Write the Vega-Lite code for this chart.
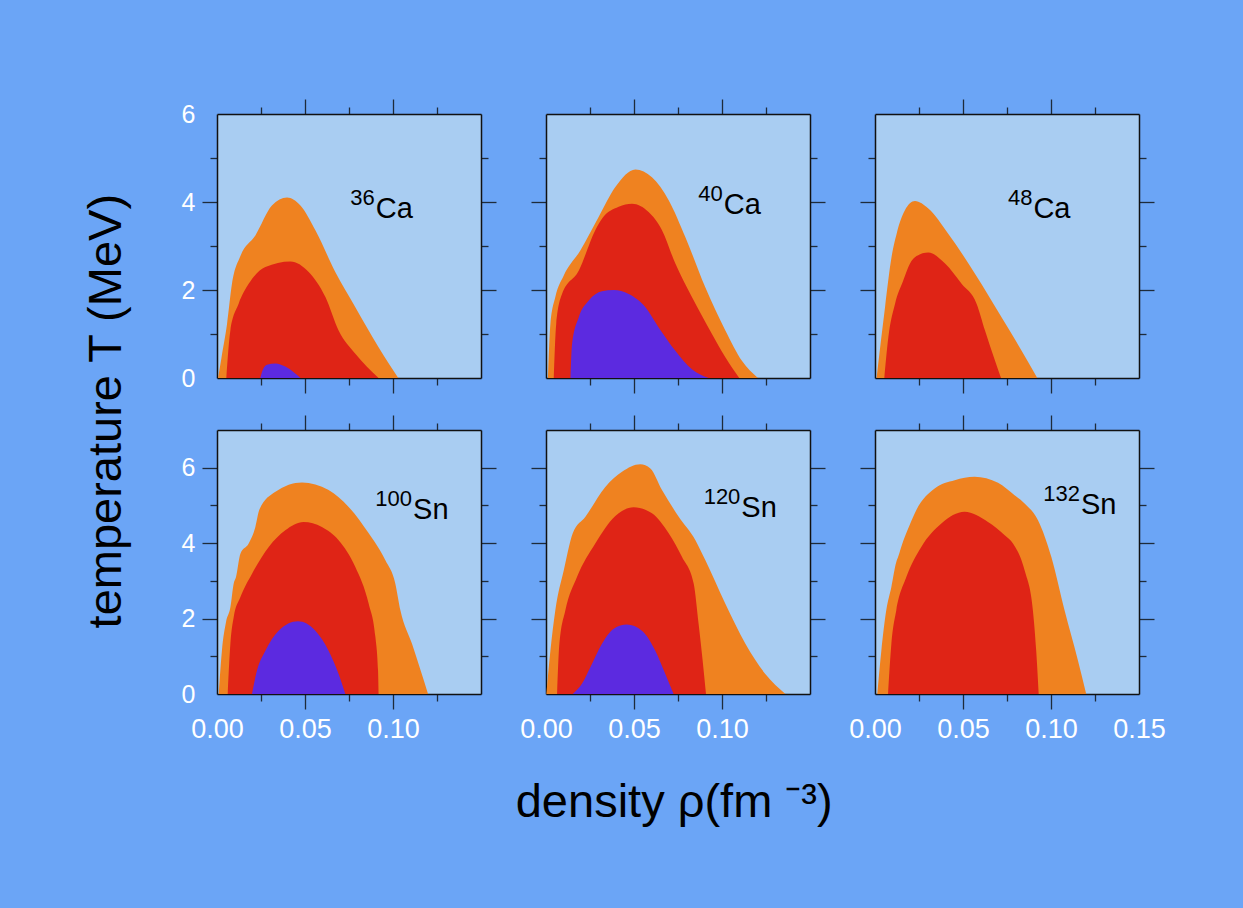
{
  "$schema": "https://vega.github.io/schema/vega-lite/v6.json",
  "background": "#6ba5f6",
  "padding": {"left": 83, "top": 98, "right": 78, "bottom": 84},
  "title": {"text": "temperature T (MeV)", "orient": "left", "anchor": "middle", "frame": "bounds", "fontSize": 47, "fontWeight": "normal", "font": "Liberation Sans", "color": "black", "offset": 50, "dx": 51},
  "datasets": {
    "regions": [
      {"panel":"36Ca","zone":"outer","rho":0.0006,"T":0},{"panel":"36Ca","zone":"outer","rho":0.0025,"T":0.45},{"panel":"36Ca","zone":"outer","rho":0.0057,"T":1.23},{"panel":"36Ca","zone":"outer","rho":0.0085,"T":2.14},{"panel":"36Ca","zone":"outer","rho":0.0133,"T":2.77},{"panel":"36Ca","zone":"outer","rho":0.0218,"T":3.24},{"panel":"36Ca","zone":"outer","rho":0.0312,"T":3.92},{"panel":"36Ca","zone":"outer","rho":0.0398,"T":4.10},{"panel":"36Ca","zone":"outer","rho":0.0474,"T":3.92},{"panel":"36Ca","zone":"outer","rho":0.0559,"T":3.36},{"panel":"36Ca","zone":"outer","rho":0.0672,"T":2.41},{"panel":"36Ca","zone":"outer","rho":0.0786,"T":1.61},{"panel":"36Ca","zone":"outer","rho":0.0918,"T":0.70},{"panel":"36Ca","zone":"outer","rho":0.1030,"T":0},
      {"panel":"36Ca","zone":"middle","rho":0.0053,"T":0},{"panel":"36Ca","zone":"middle","rho":0.0076,"T":1.08},{"panel":"36Ca","zone":"middle","rho":0.0123,"T":1.69},{"panel":"36Ca","zone":"middle","rho":0.018,"T":2.14},{"panel":"36Ca","zone":"middle","rho":0.0275,"T":2.52},{"panel":"36Ca","zone":"middle","rho":0.0417,"T":2.65},{"panel":"36Ca","zone":"middle","rho":0.0521,"T":2.41},{"panel":"36Ca","zone":"middle","rho":0.0616,"T":1.84},{"panel":"36Ca","zone":"middle","rho":0.0691,"T":1.08},{"panel":"36Ca","zone":"middle","rho":0.0786,"T":0.55},{"panel":"36Ca","zone":"middle","rho":0.0918,"T":0},
      {"panel":"36Ca","zone":"inner","rho":0.0246,"T":0},{"panel":"36Ca","zone":"inner","rho":0.0255,"T":0.13},{"panel":"36Ca","zone":"inner","rho":0.0284,"T":0.30},{"panel":"36Ca","zone":"inner","rho":0.0332,"T":0.33},{"panel":"36Ca","zone":"inner","rho":0.0388,"T":0.26},{"panel":"36Ca","zone":"inner","rho":0.0436,"T":0.13},{"panel":"36Ca","zone":"inner","rho":0.0474,"T":0},
      {"panel":"40Ca","zone":"outer","rho":0.0011,"T":0},{"panel":"40Ca","zone":"outer","rho":0.0025,"T":1.23},{"panel":"40Ca","zone":"outer","rho":0.0053,"T":1.84},{"panel":"40Ca","zone":"outer","rho":0.0101,"T":2.33},{"panel":"40Ca","zone":"outer","rho":0.0195,"T":2.90},{"panel":"40Ca","zone":"outer","rho":0.0299,"T":3.66},{"panel":"40Ca","zone":"outer","rho":0.0394,"T":4.34},{"panel":"40Ca","zone":"outer","rho":0.0508,"T":4.74},{"panel":"40Ca","zone":"outer","rho":0.0602,"T":4.56},{"panel":"40Ca","zone":"outer","rho":0.0697,"T":4.04},{"panel":"40Ca","zone":"outer","rho":0.0792,"T":3.20},{"panel":"40Ca","zone":"outer","rho":0.0905,"T":2.06},{"panel":"40Ca","zone":"outer","rho":0.1019,"T":1.08},{"panel":"40Ca","zone":"outer","rho":0.1113,"T":0.39},{"panel":"40Ca","zone":"outer","rho":0.1204,"T":0},
      {"panel":"40Ca","zone":"middle","rho":0.0044,"T":0},{"panel":"40Ca","zone":"middle","rho":0.0058,"T":1.23},{"panel":"40Ca","zone":"middle","rho":0.0091,"T":1.91},{"panel":"40Ca","zone":"middle","rho":0.0186,"T":2.44},{"panel":"40Ca","zone":"middle","rho":0.0280,"T":3.36},{"panel":"40Ca","zone":"middle","rho":0.0318,"T":3.62},{"panel":"40Ca","zone":"middle","rho":0.0413,"T":3.89},{"panel":"40Ca","zone":"middle","rho":0.0489,"T":3.96},{"panel":"40Ca","zone":"middle","rho":0.0583,"T":3.77},{"panel":"40Ca","zone":"middle","rho":0.0659,"T":3.36},{"panel":"40Ca","zone":"middle","rho":0.0735,"T":2.60},{"panel":"40Ca","zone":"middle","rho":0.0829,"T":1.84},{"panel":"40Ca","zone":"middle","rho":0.0943,"T":1.00},{"panel":"40Ca","zone":"middle","rho":0.1019,"T":0.47},{"panel":"40Ca","zone":"middle","rho":0.1098,"T":0},
      {"panel":"40Ca","zone":"inner","rho":0.0139,"T":0},{"panel":"40Ca","zone":"inner","rho":0.0148,"T":0.77},{"panel":"40Ca","zone":"inner","rho":0.0186,"T":1.38},{"panel":"40Ca","zone":"inner","rho":0.0243,"T":1.76},{"panel":"40Ca","zone":"inner","rho":0.0318,"T":1.97},{"panel":"40Ca","zone":"inner","rho":0.0385,"T":2.00},{"panel":"40Ca","zone":"inner","rho":0.0470,"T":1.91},{"panel":"40Ca","zone":"inner","rho":0.0565,"T":1.61},{"panel":"40Ca","zone":"inner","rho":0.0640,"T":1.15},{"panel":"40Ca","zone":"inner","rho":0.0735,"T":0.62},{"panel":"40Ca","zone":"inner","rho":0.0829,"T":0.20},{"panel":"40Ca","zone":"inner","rho":0.0924,"T":0},
      {"panel":"48Ca","zone":"outer","rho":0.0009,"T":0},{"panel":"48Ca","zone":"outer","rho":0.0057,"T":1.61},{"panel":"48Ca","zone":"outer","rho":0.0094,"T":2.75},{"panel":"48Ca","zone":"outer","rho":0.0123,"T":3.28},{"panel":"48Ca","zone":"outer","rho":0.0170,"T":3.81},{"panel":"48Ca","zone":"outer","rho":0.0227,"T":4.02},{"panel":"48Ca","zone":"outer","rho":0.0303,"T":3.85},{"panel":"48Ca","zone":"outer","rho":0.0416,"T":3.28},{"panel":"48Ca","zone":"outer","rho":0.0568,"T":2.37},{"panel":"48Ca","zone":"outer","rho":0.0719,"T":1.38},{"panel":"48Ca","zone":"outer","rho":0.0833,"T":0.62},{"panel":"48Ca","zone":"outer","rho":0.0922,"T":0},
      {"panel":"48Ca","zone":"middle","rho":0.0053,"T":0},{"panel":"48Ca","zone":"middle","rho":0.0076,"T":0.93},{"panel":"48Ca","zone":"middle","rho":0.0114,"T":1.69},{"panel":"48Ca","zone":"middle","rho":0.0161,"T":2.22},{"panel":"48Ca","zone":"middle","rho":0.0199,"T":2.60},{"panel":"48Ca","zone":"middle","rho":0.0236,"T":2.77},{"panel":"48Ca","zone":"middle","rho":0.0303,"T":2.85},{"panel":"48Ca","zone":"middle","rho":0.0398,"T":2.60},{"panel":"48Ca","zone":"middle","rho":0.0492,"T":2.14},{"panel":"48Ca","zone":"middle","rho":0.0577,"T":1.69},{"panel":"48Ca","zone":"middle","rho":0.0625,"T":1.08},{"panel":"48Ca","zone":"middle","rho":0.0682,"T":0.39},{"panel":"48Ca","zone":"middle","rho":0.0716,"T":0},
      {"panel":"100Sn","zone":"outer","rho":0.0010,"T":0},{"panel":"100Sn","zone":"outer","rho":0.0028,"T":1.15},{"panel":"100Sn","zone":"outer","rho":0.0051,"T":1.90},{"panel":"100Sn","zone":"outer","rho":0.0076,"T":2.30},{"panel":"100Sn","zone":"outer","rho":0.0095,"T":2.93},{"panel":"100Sn","zone":"outer","rho":0.0108,"T":3.10},{"panel":"100Sn","zone":"outer","rho":0.0133,"T":3.72},{"panel":"100Sn","zone":"outer","rho":0.0180,"T":3.99},{"panel":"100Sn","zone":"outer","rho":0.0218,"T":4.43},{"panel":"100Sn","zone":"outer","rho":0.0241,"T":4.89},{"panel":"100Sn","zone":"outer","rho":0.0332,"T":5.36},{"panel":"100Sn","zone":"outer","rho":0.0483,"T":5.61},{"panel":"100Sn","zone":"outer","rho":0.0634,"T":5.41},{"panel":"100Sn","zone":"outer","rho":0.0748,"T":4.96},{"panel":"100Sn","zone":"outer","rho":0.0862,"T":4.26},{"panel":"100Sn","zone":"outer","rho":0.0956,"T":3.55},{"panel":"100Sn","zone":"outer","rho":0.1013,"T":2.93},{"panel":"100Sn","zone":"outer","rho":0.1042,"T":2.22},{"panel":"100Sn","zone":"outer","rho":0.1108,"T":1.33},{"panel":"100Sn","zone":"outer","rho":0.1199,"T":0},
      {"panel":"100Sn","zone":"middle","rho":0.0061,"T":0},{"panel":"100Sn","zone":"middle","rho":0.0076,"T":1.33},{"panel":"100Sn","zone":"middle","rho":0.0095,"T":2.04},{"panel":"100Sn","zone":"middle","rho":0.0133,"T":2.57},{"panel":"100Sn","zone":"middle","rho":0.0199,"T":3.19},{"panel":"100Sn","zone":"middle","rho":0.0294,"T":3.90},{"panel":"100Sn","zone":"middle","rho":0.0388,"T":4.34},{"panel":"100Sn","zone":"middle","rho":0.0492,"T":4.56},{"panel":"100Sn","zone":"middle","rho":0.0596,"T":4.43},{"panel":"100Sn","zone":"middle","rho":0.0691,"T":4.08},{"panel":"100Sn","zone":"middle","rho":0.0786,"T":3.37},{"panel":"100Sn","zone":"middle","rho":0.0862,"T":2.39},{"panel":"100Sn","zone":"middle","rho":0.0900,"T":1.51},{"panel":"100Sn","zone":"middle","rho":0.0915,"T":0.62},{"panel":"100Sn","zone":"middle","rho":0.0918,"T":0},
      {"panel":"100Sn","zone":"inner","rho":0.0199,"T":0},{"panel":"100Sn","zone":"inner","rho":0.0227,"T":0.62},{"panel":"100Sn","zone":"inner","rho":0.0275,"T":1.15},{"panel":"100Sn","zone":"inner","rho":0.0350,"T":1.68},{"panel":"100Sn","zone":"inner","rho":0.0460,"T":1.93},{"panel":"100Sn","zone":"inner","rho":0.0559,"T":1.68},{"panel":"100Sn","zone":"inner","rho":0.0634,"T":1.15},{"panel":"100Sn","zone":"inner","rho":0.0691,"T":0.53},{"panel":"100Sn","zone":"inner","rho":0.0729,"T":0},
      {"panel":"120Sn","zone":"outer","rho":0.0002,"T":0},{"panel":"120Sn","zone":"outer","rho":0.0025,"T":1.15},{"panel":"120Sn","zone":"outer","rho":0.0053,"T":2.22},{"panel":"120Sn","zone":"outer","rho":0.0101,"T":3.28},{"panel":"120Sn","zone":"outer","rho":0.0152,"T":4.26},{"panel":"120Sn","zone":"outer","rho":0.0224,"T":4.70},{"panel":"120Sn","zone":"outer","rho":0.0337,"T":5.49},{"panel":"120Sn","zone":"outer","rho":0.0432,"T":5.89},{"panel":"120Sn","zone":"outer","rho":0.0536,"T":6.09},{"panel":"120Sn","zone":"outer","rho":0.0593,"T":5.98},{"panel":"120Sn","zone":"outer","rho":0.0659,"T":5.41},{"panel":"120Sn","zone":"outer","rho":0.0754,"T":4.70},{"panel":"120Sn","zone":"outer","rho":0.0849,"T":4.08},{"panel":"120Sn","zone":"outer","rho":0.0905,"T":3.55},{"panel":"120Sn","zone":"outer","rho":0.1019,"T":2.39},{"panel":"120Sn","zone":"outer","rho":0.1133,"T":1.33},{"panel":"120Sn","zone":"outer","rho":0.1246,"T":0.53},{"panel":"120Sn","zone":"outer","rho":0.1360,"T":0},
      {"panel":"120Sn","zone":"middle","rho":0.0063,"T":0},{"panel":"120Sn","zone":"middle","rho":0.0076,"T":1.33},{"panel":"120Sn","zone":"middle","rho":0.0110,"T":2.22},{"panel":"120Sn","zone":"middle","rho":0.0176,"T":3.10},{"panel":"120Sn","zone":"middle","rho":0.0280,"T":3.99},{"panel":"120Sn","zone":"middle","rho":0.0394,"T":4.72},{"panel":"120Sn","zone":"middle","rho":0.0498,"T":4.95},{"panel":"120Sn","zone":"middle","rho":0.0602,"T":4.79},{"panel":"120Sn","zone":"middle","rho":0.0697,"T":4.26},{"panel":"120Sn","zone":"middle","rho":0.0773,"T":3.63},{"panel":"120Sn","zone":"middle","rho":0.0839,"T":2.93},{"panel":"120Sn","zone":"middle","rho":0.0867,"T":1.86},{"panel":"120Sn","zone":"middle","rho":0.0890,"T":0.89},{"panel":"120Sn","zone":"middle","rho":0.0909,"T":0},
      {"panel":"120Sn","zone":"inner","rho":0.0152,"T":0},{"panel":"120Sn","zone":"inner","rho":0.0204,"T":0.27},{"panel":"120Sn","zone":"inner","rho":0.0252,"T":0.71},{"panel":"120Sn","zone":"inner","rho":0.0318,"T":1.33},{"panel":"120Sn","zone":"inner","rho":0.0385,"T":1.73},{"panel":"120Sn","zone":"inner","rho":0.0460,"T":1.84},{"panel":"120Sn","zone":"inner","rho":0.0545,"T":1.68},{"panel":"120Sn","zone":"inner","rho":0.0621,"T":1.15},{"panel":"120Sn","zone":"inner","rho":0.0678,"T":0.53},{"panel":"120Sn","zone":"inner","rho":0.0725,"T":0},
      {"panel":"132Sn","zone":"outer","rho":0.0013,"T":0},{"panel":"132Sn","zone":"outer","rho":0.0036,"T":1.15},{"panel":"132Sn","zone":"outer","rho":0.0064,"T":2.22},{"panel":"132Sn","zone":"outer","rho":0.0093,"T":2.84},{"panel":"132Sn","zone":"outer","rho":0.0121,"T":3.50},{"panel":"132Sn","zone":"outer","rho":0.0131,"T":3.63},{"panel":"132Sn","zone":"outer","rho":0.0149,"T":3.90},{"panel":"132Sn","zone":"outer","rho":0.0197,"T":4.48},{"panel":"132Sn","zone":"outer","rho":0.0235,"T":4.88},{"panel":"132Sn","zone":"outer","rho":0.0339,"T":5.45},{"panel":"132Sn","zone":"outer","rho":0.0453,"T":5.67},{"panel":"132Sn","zone":"outer","rho":0.0566,"T":5.76},{"panel":"132Sn","zone":"outer","rho":0.0699,"T":5.60},{"panel":"132Sn","zone":"outer","rho":0.0793,"T":5.27},{"panel":"132Sn","zone":"outer","rho":0.0850,"T":5.05},{"panel":"132Sn","zone":"outer","rho":0.0926,"T":4.61},{"panel":"132Sn","zone":"outer","rho":0.1002,"T":3.63},{"panel":"132Sn","zone":"outer","rho":0.1077,"T":2.22},{"panel":"132Sn","zone":"outer","rho":0.1153,"T":0.89},{"panel":"132Sn","zone":"outer","rho":0.1200,"T":0},
      {"panel":"132Sn","zone":"middle","rho":0.0074,"T":0},{"panel":"132Sn","zone":"middle","rho":0.0093,"T":1.33},{"panel":"132Sn","zone":"middle","rho":0.0121,"T":2.22},{"panel":"132Sn","zone":"middle","rho":0.0178,"T":3.10},{"panel":"132Sn","zone":"middle","rho":0.0263,"T":3.90},{"panel":"132Sn","zone":"middle","rho":0.0377,"T":4.52},{"panel":"132Sn","zone":"middle","rho":0.0509,"T":4.83},{"panel":"132Sn","zone":"middle","rho":0.0642,"T":4.56},{"panel":"132Sn","zone":"middle","rho":0.0737,"T":4.21},{"panel":"132Sn","zone":"middle","rho":0.0784,"T":3.99},{"panel":"132Sn","zone":"middle","rho":0.0850,"T":3.28},{"panel":"132Sn","zone":"middle","rho":0.0897,"T":2.22},{"panel":"132Sn","zone":"middle","rho":0.0916,"T":1.15},{"panel":"132Sn","zone":"middle","rho":0.0930,"T":0}
    ],
    "labels": [
      {"panel":"36Ca","mass":"36","el":"Ca","rho":0.0902,"T":3.64},
      {"panel":"40Ca","mass":"40","el":"Ca","rho":0.101,"T":3.72},
      {"panel":"48Ca","mass":"48","el":"Ca","rho":0.090,"T":3.64},
      {"panel":"100Sn","mass":"100","el":"Sn","rho":0.1114,"T":4.63},
      {"panel":"120Sn","mass":"120","el":"Sn","rho":0.111,"T":4.70},
      {"panel":"132Sn","mass":"132","el":"Sn","rho":0.117,"T":4.77}
    ]
  },
  "bounds": "flush",
  "vconcat": [
    {
      "title": {"text": "density ρ(fm ⁻³)", "orient": "bottom", "anchor": "middle", "frame": "bounds", "fontSize": 47, "fontWeight": "normal", "font": "Liberation Sans", "color": "black", "offset": 38, "dx": 1},
      "columns": 3,
      "spacing": {"row": 52, "column": 65},
      "bounds": "flush",
      "concat": [
        {
          "width": 264, "height": 264,
          "data": {"name": "regions"},
          "resolve": {"axis": {"x": "independent", "y": "independent"}},
          "layer": [
            {"transform": [{"filter": "datum.panel == '36Ca' && datum.zone == 'outer'"}],
             "mark": {"type": "area", "color": "#ef8220", "interpolate": "monotone", "clip": true},
             "encoding": {
               "x": {"field": "rho", "type": "quantitative", "scale": {"domain": [0, 0.15], "nice": false}, "axis": {"orient": "bottom", "title": null, "values": [0, 0.025, 0.05, 0.075, 0.1, 0.125, 0.15], "labels": false}},
               "y": {"field": "T", "type": "quantitative", "scale": {"domain": [0, 6], "nice": false}, "axis": {"orient": "left", "title": null, "values": [0, 1, 2, 3, 4, 5, 6], "labelExpr": "datum.value % 2 == 0 ? datum.label : ''"}}}},
            {"transform": [{"filter": "datum.panel == '36Ca' && datum.zone == 'middle'"}],
             "mark": {"type": "area", "color": "#df2416", "interpolate": "monotone", "clip": true},
             "encoding": {
               "x": {"field": "rho", "type": "quantitative", "axis": {"orient": "top", "title": null, "values": [0, 0.025, 0.05, 0.075, 0.1, 0.125, 0.15], "labels": false}},
               "y": {"field": "T", "type": "quantitative", "axis": {"orient": "right", "title": null, "values": [0, 1, 2, 3, 4, 5, 6], "labels": false}}}},
            {"transform": [{"filter": "datum.panel == '36Ca' && datum.zone == 'inner'"}],
             "mark": {"type": "area", "color": "#5c2ae0", "interpolate": "monotone", "clip": true},
             "encoding": {"x": {"field": "rho", "type": "quantitative", "axis": null}, "y": {"field": "T", "type": "quantitative", "axis": null}}},
            {"data": {"name": "labels"}, "transform": [{"filter": "datum.panel == '36Ca'"}],
             "mark": {"type": "text", "align": "right", "baseline": "alphabetic", "fontSize": 22, "dy": -13, "dx": -1, "color": "black", "font": "Liberation Sans"},
             "encoding": {"x": {"field": "rho", "type": "quantitative", "axis": null}, "y": {"field": "T", "type": "quantitative", "axis": null}, "text": {"field": "mass"}}},
            {"data": {"name": "labels"}, "transform": [{"filter": "datum.panel == '36Ca'"}],
             "mark": {"type": "text", "align": "left", "baseline": "alphabetic", "fontSize": 29, "color": "black", "font": "Liberation Sans"},
             "encoding": {"x": {"field": "rho", "type": "quantitative", "axis": null}, "y": {"field": "T", "type": "quantitative", "axis": null}, "text": {"field": "el"}}}
          ]
        },
        {
          "width": 264, "height": 264,
          "data": {"name": "regions"},
          "resolve": {"axis": {"x": "independent", "y": "independent"}},
          "layer": [
            {"transform": [{"filter": "datum.panel == '40Ca' && datum.zone == 'outer'"}],
             "mark": {"type": "area", "color": "#ef8220", "interpolate": "monotone", "clip": true},
             "encoding": {
               "x": {"field": "rho", "type": "quantitative", "scale": {"domain": [0, 0.15], "nice": false}, "axis": {"orient": "bottom", "title": null, "values": [0, 0.025, 0.05, 0.075, 0.1, 0.125, 0.15], "labels": false}},
               "y": {"field": "T", "type": "quantitative", "scale": {"domain": [0, 6], "nice": false}, "axis": {"orient": "left", "title": null, "values": [0, 1, 2, 3, 4, 5, 6], "labels": false}}}},
            {"transform": [{"filter": "datum.panel == '40Ca' && datum.zone == 'middle'"}],
             "mark": {"type": "area", "color": "#df2416", "interpolate": "monotone", "clip": true},
             "encoding": {
               "x": {"field": "rho", "type": "quantitative", "axis": {"orient": "top", "title": null, "values": [0, 0.025, 0.05, 0.075, 0.1, 0.125, 0.15], "labels": false}},
               "y": {"field": "T", "type": "quantitative", "axis": {"orient": "right", "title": null, "values": [0, 1, 2, 3, 4, 5, 6], "labels": false}}}},
            {"transform": [{"filter": "datum.panel == '40Ca' && datum.zone == 'inner'"}],
             "mark": {"type": "area", "color": "#5c2ae0", "interpolate": "monotone", "clip": true},
             "encoding": {"x": {"field": "rho", "type": "quantitative", "axis": null}, "y": {"field": "T", "type": "quantitative", "axis": null}}},
            {"data": {"name": "labels"}, "transform": [{"filter": "datum.panel == '40Ca'"}],
             "mark": {"type": "text", "align": "right", "baseline": "alphabetic", "fontSize": 22, "dy": -13, "dx": -1, "color": "black", "font": "Liberation Sans"},
             "encoding": {"x": {"field": "rho", "type": "quantitative", "axis": null}, "y": {"field": "T", "type": "quantitative", "axis": null}, "text": {"field": "mass"}}},
            {"data": {"name": "labels"}, "transform": [{"filter": "datum.panel == '40Ca'"}],
             "mark": {"type": "text", "align": "left", "baseline": "alphabetic", "fontSize": 29, "color": "black", "font": "Liberation Sans"},
             "encoding": {"x": {"field": "rho", "type": "quantitative", "axis": null}, "y": {"field": "T", "type": "quantitative", "axis": null}, "text": {"field": "el"}}}
          ]
        },
        {
          "width": 264, "height": 264,
          "data": {"name": "regions"},
          "resolve": {"axis": {"x": "independent", "y": "independent"}},
          "layer": [
            {"transform": [{"filter": "datum.panel == '48Ca' && datum.zone == 'outer'"}],
             "mark": {"type": "area", "color": "#ef8220", "interpolate": "monotone", "clip": true},
             "encoding": {
               "x": {"field": "rho", "type": "quantitative", "scale": {"domain": [0, 0.15], "nice": false}, "axis": {"orient": "bottom", "title": null, "values": [0, 0.025, 0.05, 0.075, 0.1, 0.125, 0.15], "labels": false}},
               "y": {"field": "T", "type": "quantitative", "scale": {"domain": [0, 6], "nice": false}, "axis": {"orient": "left", "title": null, "values": [0, 1, 2, 3, 4, 5, 6], "labels": false}}}},
            {"transform": [{"filter": "datum.panel == '48Ca' && datum.zone == 'middle'"}],
             "mark": {"type": "area", "color": "#df2416", "interpolate": "monotone", "clip": true},
             "encoding": {
               "x": {"field": "rho", "type": "quantitative", "axis": {"orient": "top", "title": null, "values": [0, 0.025, 0.05, 0.075, 0.1, 0.125, 0.15], "labels": false}},
               "y": {"field": "T", "type": "quantitative", "axis": {"orient": "right", "title": null, "values": [0, 1, 2, 3, 4, 5, 6], "labels": false}}}},
            {"data": {"name": "labels"}, "transform": [{"filter": "datum.panel == '48Ca'"}],
             "mark": {"type": "text", "align": "right", "baseline": "alphabetic", "fontSize": 22, "dy": -13, "dx": -1, "color": "black", "font": "Liberation Sans"},
             "encoding": {"x": {"field": "rho", "type": "quantitative", "axis": null}, "y": {"field": "T", "type": "quantitative", "axis": null}, "text": {"field": "mass"}}},
            {"data": {"name": "labels"}, "transform": [{"filter": "datum.panel == '48Ca'"}],
             "mark": {"type": "text", "align": "left", "baseline": "alphabetic", "fontSize": 29, "color": "black", "font": "Liberation Sans"},
             "encoding": {"x": {"field": "rho", "type": "quantitative", "axis": null}, "y": {"field": "T", "type": "quantitative", "axis": null}, "text": {"field": "el"}}}
          ]
        },
        {
          "width": 264, "height": 264,
          "data": {"name": "regions"},
          "resolve": {"axis": {"x": "independent", "y": "independent"}},
          "layer": [
            {"transform": [{"filter": "datum.panel == '100Sn' && datum.zone == 'outer'"}],
             "mark": {"type": "area", "color": "#ef8220", "interpolate": "monotone", "clip": true},
             "encoding": {
               "x": {"field": "rho", "type": "quantitative", "scale": {"domain": [0, 0.15], "nice": false}, "axis": {"orient": "bottom", "title": null, "values": [0, 0.025, 0.05, 0.075, 0.1, 0.125, 0.15], "labelExpr": "datum.value < 0.149 && abs(datum.value * 20 - round(datum.value * 20)) < 0.01 ? format(datum.value, '.2f') : ''"}},
               "y": {"field": "T", "type": "quantitative", "scale": {"domain": [0, 7], "nice": false}, "axis": {"orient": "left", "title": null, "values": [0, 1, 2, 3, 4, 5, 6, 7], "labelExpr": "datum.value % 2 == 0 ? datum.label : ''"}}}},
            {"transform": [{"filter": "datum.panel == '100Sn' && datum.zone == 'middle'"}],
             "mark": {"type": "area", "color": "#df2416", "interpolate": "monotone", "clip": true},
             "encoding": {
               "x": {"field": "rho", "type": "quantitative", "axis": {"orient": "top", "title": null, "values": [0, 0.025, 0.05, 0.075, 0.1, 0.125, 0.15], "labels": false}},
               "y": {"field": "T", "type": "quantitative", "axis": {"orient": "right", "title": null, "values": [0, 1, 2, 3, 4, 5, 6, 7], "labels": false}}}},
            {"transform": [{"filter": "datum.panel == '100Sn' && datum.zone == 'inner'"}],
             "mark": {"type": "area", "color": "#5c2ae0", "interpolate": "monotone", "clip": true},
             "encoding": {"x": {"field": "rho", "type": "quantitative", "axis": null}, "y": {"field": "T", "type": "quantitative", "axis": null}}},
            {"data": {"name": "labels"}, "transform": [{"filter": "datum.panel == '100Sn'"}],
             "mark": {"type": "text", "align": "right", "baseline": "alphabetic", "fontSize": 22, "dy": -13, "dx": -1, "color": "black", "font": "Liberation Sans"},
             "encoding": {"x": {"field": "rho", "type": "quantitative", "axis": null}, "y": {"field": "T", "type": "quantitative", "axis": null}, "text": {"field": "mass"}}},
            {"data": {"name": "labels"}, "transform": [{"filter": "datum.panel == '100Sn'"}],
             "mark": {"type": "text", "align": "left", "baseline": "alphabetic", "fontSize": 29, "color": "black", "font": "Liberation Sans"},
             "encoding": {"x": {"field": "rho", "type": "quantitative", "axis": null}, "y": {"field": "T", "type": "quantitative", "axis": null}, "text": {"field": "el"}}}
          ]
        },
        {
          "width": 264, "height": 264,
          "data": {"name": "regions"},
          "resolve": {"axis": {"x": "independent", "y": "independent"}},
          "layer": [
            {"transform": [{"filter": "datum.panel == '120Sn' && datum.zone == 'outer'"}],
             "mark": {"type": "area", "color": "#ef8220", "interpolate": "monotone", "clip": true},
             "encoding": {
               "x": {"field": "rho", "type": "quantitative", "scale": {"domain": [0, 0.15], "nice": false}, "axis": {"orient": "bottom", "title": null, "values": [0, 0.025, 0.05, 0.075, 0.1, 0.125, 0.15], "labelExpr": "datum.value < 0.149 && abs(datum.value * 20 - round(datum.value * 20)) < 0.01 ? format(datum.value, '.2f') : ''"}},
               "y": {"field": "T", "type": "quantitative", "scale": {"domain": [0, 7], "nice": false}, "axis": {"orient": "left", "title": null, "values": [0, 1, 2, 3, 4, 5, 6, 7], "labels": false}}}},
            {"transform": [{"filter": "datum.panel == '120Sn' && datum.zone == 'middle'"}],
             "mark": {"type": "area", "color": "#df2416", "interpolate": "monotone", "clip": true},
             "encoding": {
               "x": {"field": "rho", "type": "quantitative", "axis": {"orient": "top", "title": null, "values": [0, 0.025, 0.05, 0.075, 0.1, 0.125, 0.15], "labels": false}},
               "y": {"field": "T", "type": "quantitative", "axis": {"orient": "right", "title": null, "values": [0, 1, 2, 3, 4, 5, 6, 7], "labels": false}}}},
            {"transform": [{"filter": "datum.panel == '120Sn' && datum.zone == 'inner'"}],
             "mark": {"type": "area", "color": "#5c2ae0", "interpolate": "monotone", "clip": true},
             "encoding": {"x": {"field": "rho", "type": "quantitative", "axis": null}, "y": {"field": "T", "type": "quantitative", "axis": null}}},
            {"data": {"name": "labels"}, "transform": [{"filter": "datum.panel == '120Sn'"}],
             "mark": {"type": "text", "align": "right", "baseline": "alphabetic", "fontSize": 22, "dy": -13, "dx": -1, "color": "black", "font": "Liberation Sans"},
             "encoding": {"x": {"field": "rho", "type": "quantitative", "axis": null}, "y": {"field": "T", "type": "quantitative", "axis": null}, "text": {"field": "mass"}}},
            {"data": {"name": "labels"}, "transform": [{"filter": "datum.panel == '120Sn'"}],
             "mark": {"type": "text", "align": "left", "baseline": "alphabetic", "fontSize": 29, "color": "black", "font": "Liberation Sans"},
             "encoding": {"x": {"field": "rho", "type": "quantitative", "axis": null}, "y": {"field": "T", "type": "quantitative", "axis": null}, "text": {"field": "el"}}}
          ]
        },
        {
          "width": 264, "height": 264,
          "data": {"name": "regions"},
          "resolve": {"axis": {"x": "independent", "y": "independent"}},
          "layer": [
            {"transform": [{"filter": "datum.panel == '132Sn' && datum.zone == 'outer'"}],
             "mark": {"type": "area", "color": "#ef8220", "interpolate": "monotone", "clip": true},
             "encoding": {
               "x": {"field": "rho", "type": "quantitative", "scale": {"domain": [0, 0.15], "nice": false}, "axis": {"orient": "bottom", "title": null, "values": [0, 0.025, 0.05, 0.075, 0.1, 0.125, 0.15], "labelExpr": "abs(datum.value * 20 - round(datum.value * 20)) < 0.01 ? format(datum.value, '.2f') : ''"}},
               "y": {"field": "T", "type": "quantitative", "scale": {"domain": [0, 7], "nice": false}, "axis": {"orient": "left", "title": null, "values": [0, 1, 2, 3, 4, 5, 6, 7], "labels": false}}}},
            {"transform": [{"filter": "datum.panel == '132Sn' && datum.zone == 'middle'"}],
             "mark": {"type": "area", "color": "#df2416", "interpolate": "monotone", "clip": true},
             "encoding": {
               "x": {"field": "rho", "type": "quantitative", "axis": {"orient": "top", "title": null, "values": [0, 0.025, 0.05, 0.075, 0.1, 0.125, 0.15], "labels": false}},
               "y": {"field": "T", "type": "quantitative", "axis": {"orient": "right", "title": null, "values": [0, 1, 2, 3, 4, 5, 6, 7], "labels": false}}}},
            {"data": {"name": "labels"}, "transform": [{"filter": "datum.panel == '132Sn'"}],
             "mark": {"type": "text", "align": "right", "baseline": "alphabetic", "fontSize": 22, "dy": -13, "dx": -1, "color": "black", "font": "Liberation Sans"},
             "encoding": {"x": {"field": "rho", "type": "quantitative", "axis": null}, "y": {"field": "T", "type": "quantitative", "axis": null}, "text": {"field": "mass"}}},
            {"data": {"name": "labels"}, "transform": [{"filter": "datum.panel == '132Sn'"}],
             "mark": {"type": "text", "align": "left", "baseline": "alphabetic", "fontSize": 29, "color": "black", "font": "Liberation Sans"},
             "encoding": {"x": {"field": "rho", "type": "quantitative", "axis": null}, "y": {"field": "T", "type": "quantitative", "axis": null}, "text": {"field": "el"}}}
          ]
        }
      ]
    }
  ],
  "config": {
    "view": {"fill": "#a9cdf2", "stroke": null},
    "font": "Liberation Sans",
    "axis": {
      "grid": false, "domain": true, "domainColor": "#111111", "domainWidth": 1.5,
      "tickColor": "#1e2b3a", "tickWidth": 1.3,
      "tickOpacity": {"condition": {"test": "datum.index < 0.001 || datum.index > 0.999", "value": 0}, "value": 1},
      "labelColor": "white", "labelFont": "Liberation Sans",
      "labelOverlap": false, "labelFlush": false, "labelBound": false, "zindex": 1
    },
    "axisX": {
      "labelFontSize": 27, "labelPadding": 7,
      "tickSize": {"condition": {"test": "abs(datum.value * 20 - round(datum.value * 20)) < 0.01", "value": 15}, "value": 7}
    },
    "axisY": {
      "labelFontSize": 25, "labelPadding": 7,
      "tickSize": {"condition": {"test": "datum.value % 2 == 0", "value": 15}, "value": 7}
    }
  }
}
